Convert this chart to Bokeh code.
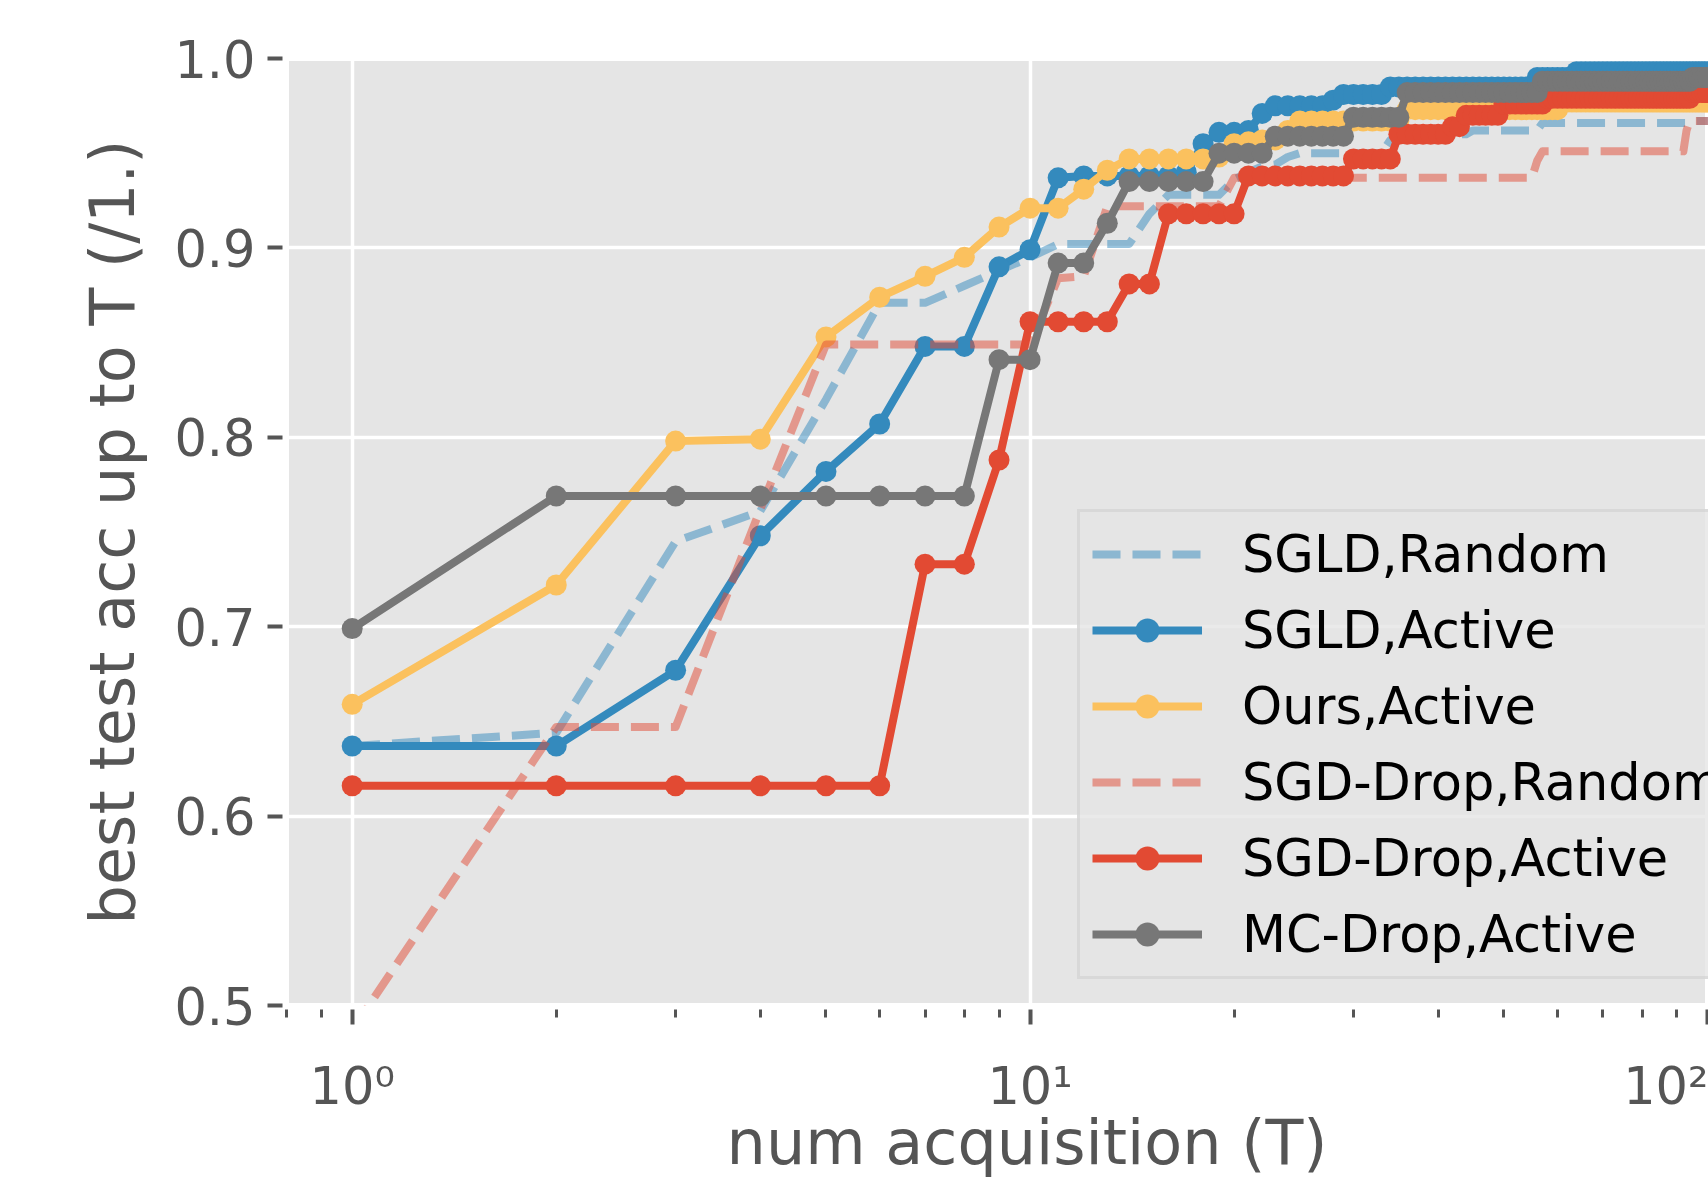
from bokeh.plotting import figure
from bokeh.models import Range1d, Legend, LegendItem, FixedTicker, PrintfTickFormatter
from bokeh.embed import file_html
from bokeh.resources import INLINE

# x values: number of acquisitions T
num_acq = list(range(1, 101))

sgld_random = [
    0.637, 0.644, 0.745, 0.761, 0.820, 0.871, 0.871, 0.880, 0.888, 0.895,
    0.902, 0.902, 0.902, 0.902, 0.918, 0.928, 0.928, 0.928, 0.928, 0.936,
    0.940, 0.943, 0.944, 0.948, 0.950, 0.950, 0.950, 0.950, 0.950, 0.950,
    0.950, 0.950, 0.950, 0.957, 0.957, 0.957, 0.957, 0.957, 0.957, 0.957,
    0.960, 0.960, 0.960, 0.960, 0.962, 0.962, 0.962, 0.962, 0.962, 0.962,
    0.962, 0.962, 0.962, 0.962, 0.962, 0.962, 0.966, 0.966, 0.966, 0.966,
    0.966, 0.966, 0.966, 0.966, 0.966, 0.966, 0.966, 0.966, 0.966, 0.966,
    0.966, 0.966, 0.966, 0.966, 0.966, 0.966, 0.966, 0.966, 0.966, 0.966,
    0.966, 0.966, 0.966, 0.966, 0.966, 0.966, 0.966, 0.966, 0.966, 0.966,
    0.966, 0.966, 0.966, 0.966, 0.967, 0.967, 0.967, 0.967, 0.967, 0.967,
]

sgld_active = [
    0.637, 0.637, 0.677, 0.748, 0.782, 0.807, 0.848, 0.848, 0.890, 0.899,
    0.937, 0.938, 0.938, 0.938, 0.938, 0.938, 0.940, 0.955, 0.961, 0.961,
    0.962, 0.971, 0.975, 0.975, 0.975, 0.975, 0.975, 0.978, 0.981, 0.981,
    0.981, 0.981, 0.981, 0.985, 0.985, 0.985, 0.985, 0.985, 0.985, 0.985,
    0.985, 0.985, 0.985, 0.985, 0.985, 0.985, 0.985, 0.985, 0.985, 0.985,
    0.985, 0.985, 0.985, 0.985, 0.985, 0.990, 0.990, 0.990, 0.990, 0.990,
    0.990, 0.990, 0.990, 0.993, 0.993, 0.993, 0.993, 0.993, 0.993, 0.993,
    0.993, 0.993, 0.993, 0.993, 0.993, 0.993, 0.993, 0.993, 0.993, 0.993,
    0.993, 0.993, 0.993, 0.993, 0.993, 0.993, 0.993, 0.993, 0.993, 0.993,
    0.993, 0.993, 0.993, 0.993, 0.993, 0.993, 0.993, 0.993, 0.993, 0.993,
]

ours_active = [
    0.659, 0.722, 0.798, 0.799, 0.853, 0.874, 0.885, 0.895, 0.911, 0.921,
    0.921, 0.931, 0.941, 0.947, 0.947, 0.947, 0.947, 0.947, 0.948, 0.955,
    0.956, 0.957, 0.957, 0.962, 0.967, 0.967, 0.967, 0.967, 0.967, 0.967,
    0.967, 0.967, 0.967, 0.967, 0.967, 0.973, 0.973, 0.973, 0.973, 0.973,
    0.973, 0.973, 0.973, 0.973, 0.973, 0.973, 0.973, 0.973, 0.973, 0.973,
    0.973, 0.973, 0.973, 0.973, 0.973, 0.973, 0.973, 0.973, 0.973, 0.973,
    0.977, 0.977, 0.977, 0.977, 0.977, 0.977, 0.977, 0.977, 0.977, 0.977,
    0.977, 0.977, 0.977, 0.977, 0.977, 0.977, 0.977, 0.977, 0.977, 0.977,
    0.977, 0.977, 0.977, 0.977, 0.977, 0.977, 0.977, 0.977, 0.977, 0.977,
    0.977, 0.977, 0.977, 0.977, 0.977, 0.977, 0.977, 0.977, 0.977, 0.977,
]

sgd_drop_random = [
    0.487, 0.647, 0.647, 0.762, 0.849, 0.849, 0.849, 0.849, 0.849, 0.849,
    0.884, 0.885, 0.922, 0.922, 0.922, 0.922, 0.922, 0.922, 0.922, 0.937,
    0.937, 0.937, 0.937, 0.937, 0.937, 0.937, 0.937, 0.937, 0.937, 0.937,
    0.937, 0.937, 0.937, 0.937, 0.937, 0.937, 0.937, 0.937, 0.937, 0.937,
    0.937, 0.937, 0.937, 0.937, 0.937, 0.937, 0.937, 0.937, 0.937, 0.937,
    0.937, 0.937, 0.937, 0.937, 0.937, 0.946, 0.951, 0.951, 0.951, 0.951,
    0.951, 0.951, 0.951, 0.951, 0.951, 0.951, 0.951, 0.951, 0.951, 0.951,
    0.951, 0.951, 0.951, 0.951, 0.951, 0.951, 0.951, 0.951, 0.951, 0.951,
    0.951, 0.951, 0.951, 0.951, 0.951, 0.951, 0.951, 0.951, 0.951, 0.951,
    0.951, 0.951, 0.962, 0.967, 0.967, 0.967, 0.967, 0.967, 0.967, 0.967,
]

sgd_drop_active = [
    0.616, 0.616, 0.616, 0.616, 0.616, 0.616, 0.733, 0.733, 0.788, 0.861,
    0.861, 0.861, 0.861, 0.881, 0.881, 0.918, 0.918, 0.918, 0.918, 0.918,
    0.938, 0.938, 0.938, 0.938, 0.938, 0.938, 0.938, 0.938, 0.938, 0.947,
    0.947, 0.947, 0.947, 0.947, 0.960, 0.960, 0.960, 0.960, 0.960, 0.960,
    0.960, 0.964, 0.964, 0.970, 0.970, 0.970, 0.970, 0.970, 0.970, 0.976,
    0.976, 0.976, 0.976, 0.976, 0.976, 0.976, 0.976, 0.979, 0.979, 0.979,
    0.979, 0.979, 0.979, 0.979, 0.979, 0.979, 0.979, 0.979, 0.979, 0.979,
    0.979, 0.979, 0.979, 0.979, 0.979, 0.979, 0.979, 0.979, 0.979, 0.979,
    0.979, 0.979, 0.979, 0.979, 0.979, 0.979, 0.979, 0.979, 0.979, 0.979,
    0.979, 0.979, 0.979, 0.979, 0.982, 0.982, 0.982, 0.982, 0.982, 0.982,
]

mc_drop_active = [
    0.699, 0.769, 0.769, 0.769, 0.769, 0.769, 0.769, 0.769, 0.841, 0.841,
    0.892, 0.892, 0.913, 0.935, 0.935, 0.935, 0.935, 0.935, 0.950, 0.950,
    0.950, 0.950, 0.959, 0.959, 0.959, 0.959, 0.959, 0.959, 0.959, 0.969,
    0.969, 0.969, 0.969, 0.969, 0.969, 0.982, 0.982, 0.982, 0.982, 0.982,
    0.982, 0.982, 0.982, 0.982, 0.982, 0.982, 0.982, 0.982, 0.982, 0.982,
    0.982, 0.982, 0.982, 0.982, 0.982, 0.982, 0.988, 0.988, 0.988, 0.988,
    0.988, 0.988, 0.988, 0.988, 0.988, 0.988, 0.988, 0.988, 0.988, 0.988,
    0.988, 0.988, 0.988, 0.988, 0.988, 0.988, 0.988, 0.988, 0.988, 0.988,
    0.988, 0.988, 0.988, 0.988, 0.988, 0.988, 0.988, 0.988, 0.988, 0.988,
    0.988, 0.988, 0.988, 0.988, 0.990, 0.990, 0.990, 0.990, 0.990, 0.990,
]

y_ticks = [0.5, 0.6, 0.7, 0.8, 0.9, 1.0]
x_major_ticks = [1, 10, 100]
x_minor_ticks = [0.8, 0.9, 2, 3, 4, 5, 6, 7, 8, 9, 20, 30, 40, 50, 60, 70, 80, 90]
x_tick_labels = {1: "10\u2070", 10: "10\u00b9", 100: "10\u00b2"}

series = [
    ("SGLD,Random", sgld_random, "#348ABD", True),
    ("SGLD,Active", sgld_active, "#348ABD", False),
    ("Ours,Active", ours_active, "#FBC15E", False),
    ("SGD-Drop,Random", sgd_drop_random, "#E24A33", True),
    ("SGD-Drop,Active", sgd_drop_active, "#E24A33", False),
    ("MC-Drop,Active", mc_drop_active, "#777777", False),
]

FONT = "DejaVu Sans"
GREY = "#555555"

p = figure(
    width=1708, height=1183,
    x_axis_type="log",
    x_range=Range1d(0.8, 100.2),
    y_range=Range1d(0.5, 1.0),
    output_backend="svg",
    toolbar_location=None,
    title=None,
    min_border_left=286, min_border_right=0,
    min_border_top=58, min_border_bottom=178,
    background_fill_color="#E5E5E5",
    border_fill_color="white",
)
p.outline_line_color = "white"
p.outline_line_width = 5

for ax in (p.xaxis[0], p.yaxis[0]):
    ax.axis_line_color = None
    ax.major_tick_line_color = GREY
    ax.major_tick_line_width = 4
    ax.major_tick_in = -4
    ax.major_tick_out = 19
    ax.major_label_text_font = FONT
    ax.major_label_text_font_size = "51px"
    ax.major_label_text_color = GREY
    ax.axis_label_text_font = FONT
    ax.axis_label_text_font_size = "62px"
    ax.axis_label_text_color = GREY
    ax.axis_label_text_font_style = "normal"

# x axis: log scale, decade labels as 10^n
p.xaxis.ticker = FixedTicker(ticks=x_major_ticks, minor_ticks=x_minor_ticks)
p.xaxis.major_label_overrides = x_tick_labels
p.xaxis.major_label_standoff = 32
# the original label is centred on the full (partly cropped) frame, i.e. a bit to the right
p.xaxis.axis_label = "\u00a0\u00a0\u00a0num acquisition (T)"
p.xaxis.axis_label_standoff = -13
p.xaxis.minor_tick_line_color = GREY
p.xaxis.minor_tick_line_width = 3
p.xaxis.minor_tick_in = -4
p.xaxis.minor_tick_out = 12

p.yaxis.major_label_standoff = 12
p.yaxis.axis_label = "best test acc up to T (/1.)"
p.yaxis.axis_label_standoff = 22
p.yaxis.formatter = PrintfTickFormatter(format="%.1f")
p.yaxis.minor_tick_line_color = None
p.yaxis.ticker = FixedTicker(ticks=y_ticks)

p.xgrid.grid_line_color = "white"
p.xgrid.grid_line_width = 3.5
p.ygrid.grid_line_color = "white"
p.ygrid.grid_line_width = 3.5

items = []
for label, vals, color, dashed in series:
    if dashed:
        r = p.line(num_acq, vals, line_color=color, line_alpha=0.5, line_width=8,
                   line_dash="28 12", line_join="round")
        items.append(LegendItem(label=label, renderers=[r]))
    else:
        r1 = p.line(num_acq, vals, line_color=color, line_width=8, line_join="round")
        r2 = p.scatter(num_acq, vals, marker="circle", size=21, fill_color=color,
                       line_color=color, line_width=0)
        items.append(LegendItem(label=label, renderers=[r1, r2]))

legend = Legend(
    items=items,
    location=(791, 26),
    background_fill_color="#E5E5E5",
    background_fill_alpha=0.8,
    border_line_color="#CCCCCC",
    border_line_width=3,
    label_text_font=FONT,
    label_text_font_size="51px",
    label_text_color="black",
    glyph_width=110,
    glyph_height=60,
    label_height=60,
    label_standoff=40,
    spacing=16,
    padding=12,
    margin=0,
)
p.add_layout(legend)

open("out.html", "w").write(file_html(p, INLINE))
